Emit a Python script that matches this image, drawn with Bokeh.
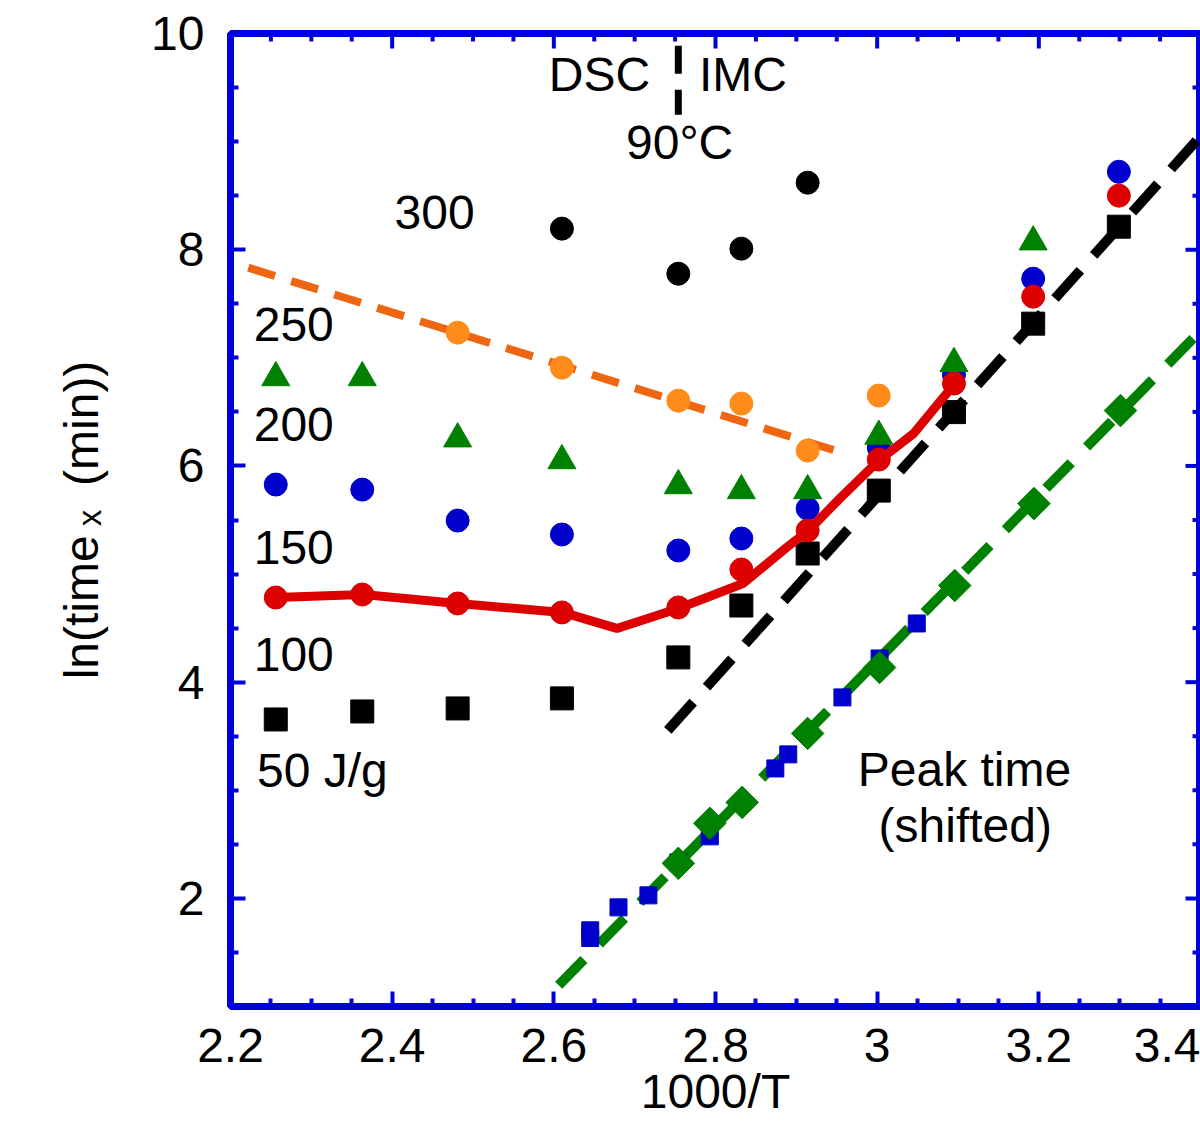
from math import pi
import numpy as np
from bokeh.plotting import figure
from bokeh.models import FixedTicker, Label, Range1d, CustomJSTickFormatter
from bokeh.embed import file_html
from bokeh.resources import INLINE

FONT = "Liberation Sans"
AX_BLUE = "#0000dd"
FS = "48px"

# ---------------- data ----------------
# 1000/T of the measurement temperatures
x_temps = [2.256, 2.363, 2.481, 2.610, 2.754, 2.832, 2.914, 3.002, 3.095, 3.193, 3.299]

# ln(time_x) for the heat levels
y_50 = [3.655, 3.729, 3.757, 3.850, 4.229, 4.709, 5.190, 5.772, 6.498, 7.316, 8.213]
y_100 = [4.783, 4.811, 4.728, 4.645, 4.691, 5.042, 5.403, 6.059, 6.762, 7.566, 8.500]
y_150 = [5.828, 5.781, 5.495, 5.366, 5.218, 5.329, 5.606, 6.170, 6.845, 7.732, 8.721]
x_200 = [2.256, 2.363, 2.481, 2.610, 2.754, 2.832, 2.914, 3.002, 3.095, 3.193]
y_200 = [6.817, 6.817, 6.251, 6.049, 5.818, 5.772, 5.772, 6.275, 6.948, 8.073]
x_250 = [2.481, 2.610, 2.754, 2.832, 2.914, 3.002]
y_250 = [7.233, 6.909, 6.604, 6.577, 6.142, 6.651]
x_300 = [2.610, 2.754, 2.832, 2.914]
y_300 = [8.195, 7.778, 8.010, 8.620]

# guide / fit curves
x_fit100 = [2.256, 2.364, 2.481, 2.611, 2.678, 2.754, 2.834, 2.888, 2.915, 2.955, 3.002, 3.045, 3.096]
y_fit100 = [4.783, 4.811, 4.728, 4.645, 4.497, 4.681, 4.913, 5.245, 5.403, 5.708, 6.050, 6.299, 6.762]
x_fit250 = [2.222, 2.952]
y_fit250 = [7.834, 6.133]
x_fit50 = [2.741, 3.40]
y_fit50 = [3.554, 9.05]
x_peakfit = [2.606, 3.40]
y_peakfit = [1.196, 7.25]

# peak time (shifted)
x_peak_a = [2.754, 2.793, 2.833, 2.914, 3.003, 3.096, 3.194, 3.301]
y_peak_a = [2.324, 2.694, 2.888, 3.526, 4.136, 4.894, 5.652, 6.512]
x_peak_b = [2.645, 2.645, 2.680, 2.717, 2.754, 2.793, 2.874, 2.890, 2.957, 3.003, 3.049]
y_peak_b = [1.705, 1.634, 1.917, 2.028, 2.333, 2.574, 3.202, 3.332, 3.859, 4.219, 4.543]

# DSC / IMC divider at 90 C
x_div = [2.754, 2.754]
y_div = [9.886, 9.248]

x_major = [2.2, 2.4, 2.6, 2.8, 3.0, 3.2, 3.4]
y_major = [2, 4, 6, 8, 10]

X_MIN, X_MAX, Y_MIN, Y_MAX = 2.2, 3.4, 1, 10

# ---------------- figure ----------------
p = figure(width=1200, height=1136, x_range=Range1d(X_MIN, X_MAX), y_range=Range1d(Y_MIN, Y_MAX),
           output_backend="svg", toolbar_location=None,
           min_border_left=230, min_border_right=0, min_border_top=33, min_border_bottom=130)
p.background_fill_color = "white"
p.border_fill_color = "white"
p.outline_line_color = AX_BLUE
p.outline_line_width = 7
p.outline_line_alpha = 1.0
p.xgrid.visible = False
p.ygrid.visible = False

x_minor = [round(v, 3) for v in np.arange(X_MIN, X_MAX + 0.0001, 0.05) if round(v, 3) not in x_major]
y_minor = [float(v) for v in np.arange(Y_MIN, Y_MAX + 0.001, 0.5) if v not in y_major]
xt = FixedTicker(ticks=x_major, minor_ticks=x_minor)
yt = FixedTicker(ticks=y_major, minor_ticks=y_minor)

for ax in (p.xaxis[0], p.yaxis[0]):
    ax.axis_line_color = None
    ax.major_tick_line_color = AX_BLUE
    ax.major_tick_line_width = 4
    ax.major_tick_in = 15
    ax.major_tick_out = 0
    ax.minor_tick_line_color = AX_BLUE
    ax.minor_tick_line_width = 4
    ax.minor_tick_in = 8
    ax.minor_tick_out = 0
    ax.major_label_text_font = FONT
    ax.major_label_text_font_size = FS
    ax.major_label_text_color = "black"
    ax.axis_label_text_font = FONT
    ax.axis_label_text_font_size = FS
    ax.axis_label_text_font_style = "normal"
    ax.axis_label_text_color = "black"

p.xaxis.ticker = xt
p.yaxis.ticker = yt
p.xaxis.formatter = CustomJSTickFormatter(code="return String(Math.round(tick*10)/10)")
p.xaxis.major_label_standoff = 22
p.yaxis.major_label_standoff = 26
p.xaxis.axis_label = "1000/T"
p.xaxis.axis_label_standoff = 0
p.yaxis.axis_label = "ln(time\u2009ₓ\u2002(min))"
p.yaxis.axis_label_standoff = 40

# mirrored inward ticks on the top and right frame edges
p.ray(x=x_major, y=[Y_MAX] * len(x_major), length=15, length_units="screen", angle=-pi / 2,
      line_color=AX_BLUE, line_width=4)
p.ray(x=x_minor, y=[Y_MAX] * len(x_minor), length=8, length_units="screen", angle=-pi / 2,
      line_color=AX_BLUE, line_width=4)
p.ray(x=[X_MAX] * len(y_major), y=y_major, length=15, length_units="screen", angle=pi,
      line_color=AX_BLUE, line_width=4)
p.ray(x=[X_MAX] * len(y_minor), y=y_minor, length=8, length_units="screen", angle=pi,
      line_color=AX_BLUE, line_width=4)

# ---------------- marks ----------------
p.line(x_fit50, y_fit50, line_color="black", line_width=10, line_dash="38 20")
p.scatter(x_temps, y_50, marker="square", size=23, color="black")

p.line(x_fit250, y_fit250, line_color="#ee6611", line_width=8, line_dash="28 17")
p.scatter(x_250, y_250, marker="circle", size=23, color="#ff8c1a")

p.scatter(x_temps, y_150, marker="circle", size=23, color="#0000cc")

p.line(x_fit100, y_fit100, line_color="#dd0000", line_width=9)
p.scatter(x_temps, y_100, marker="circle", size=23, color="#dd0000")

p.scatter(x_200, y_200, marker="triangle", size=28, color="#008000")
p.scatter(x_300, y_300, marker="circle", size=23, color="black")

p.line(x_peakfit, y_peakfit, line_color="#008000", line_width=10, line_dash="36 22")
p.scatter(x_peak_b, y_peak_b, marker="square", size=17, color="#0000cc")
p.scatter(x_peak_a, y_peak_a, marker="square", size=23, angle=pi / 4, color="#008000")

p.line(x_div, y_div, line_color="black", line_width=7, line_dash="28 16")

# ---------------- texts ----------------
def lab(x, y, t, align="left"):
    p.add_layout(Label(x=x, y=y, text=t, text_font=FONT, text_font_size=FS,
                       text_color="black", text_align=align, text_baseline="alphabetic",
                       y_offset=18))

lab(2.7191, 9.452, "DSC", "right")
lab(2.7796, 9.452, "IMC", "left")
lab(2.7556, 8.823, "90°C", "center")
lab(2.4525, 8.176, "300", "center")
lab(2.3278, 7.141, "250", "right")
lab(2.3278, 6.216, "200", "right")
lab(2.3278, 5.079, "150", "right")
lab(2.3278, 4.090, "100", "right")
lab(2.2327, 3.017, "50 J/g", "left")
lab(3.108, 3.026, "Peak time", "center")
lab(3.109, 2.509, "(shifted)", "center")

open("out.html", "w").write(file_html(p, INLINE))
